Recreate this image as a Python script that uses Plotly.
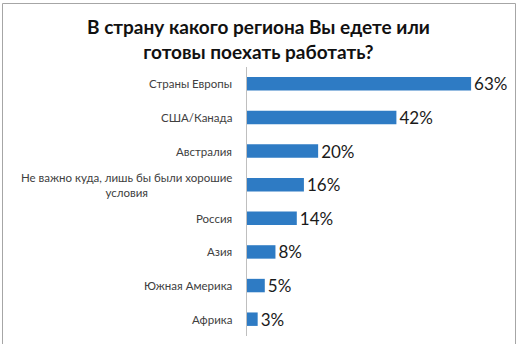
import plotly.graph_objects as go

categories = [
    "Страны Европы",
    "США/Канада",
    "Австралия",
    "Не важно куда, лишь бы были хорошие<br>условия",
    "Россия",
    "Азия",
    "Южная Америка",
    "Африка",
]
values = [63, 42, 20, 16, 14, 8, 5, 3]
title_text = "В страну какого региона Вы едете или<br>готовы поехать работать?"

W, H = 520, 344
L, R, T, B = 247, 24, 67, 8
pw = W - L - R
ph = H - T - B
FONT = "Lato, Open Sans, sans-serif"

fig = go.Figure(go.Bar(
    x=values,
    y=categories,
    orientation="h",
    marker=dict(color="#2E7BC4", line=dict(width=0)),
    text=[f"{v}%" for v in values],
    textposition="outside",
    textfont=dict(family=FONT, size=17, color="#1a1a1a"),
    cliponaxis=False,
    constraintext="none",
    width=0.4,
))

def px_x(p):
    return (p - L) / pw

def px_y(p):
    return (H - B - p) / ph

annotations = [
    dict(
        text=c, x=px_x(234), xref="paper", y=c, yref="y",
        xanchor="right", yanchor="middle", align="center", showarrow=False,
        font=dict(family=FONT, size=11.5, color="#404040"),
    )
    for c in categories
]

fig.update_layout(
    width=W, height=H,
    margin=dict(l=L, r=R, t=T, b=B),
    paper_bgcolor="white",
    plot_bgcolor="white",
    showlegend=False,
    title=dict(
        text=title_text,
        font=dict(family=FONT, size=19, color="#111111", weight="bold"),
        x=0.497, xref="container", xanchor="center",
        y=1 - 34 / H, yref="container", yanchor="middle",
    ),
    xaxis=dict(range=[0, 70], visible=False, fixedrange=True),
    yaxis=dict(
        autorange="reversed",
        showline=True, linecolor="#bfbfbf", linewidth=1,
        showgrid=False, ticks="", showticklabels=False,
    ),
    annotations=annotations,
    shapes=[dict(
        type="rect", xref="paper", yref="paper",
        x0=px_x(2.5), x1=px_x(515.5), y0=px_y(360), y1=px_y(3.5),
        line=dict(color="#a6a6a6", width=1), fillcolor="rgba(0,0,0,0)",
        layer="above",
    )],
)

fig.write_html("out.html")
